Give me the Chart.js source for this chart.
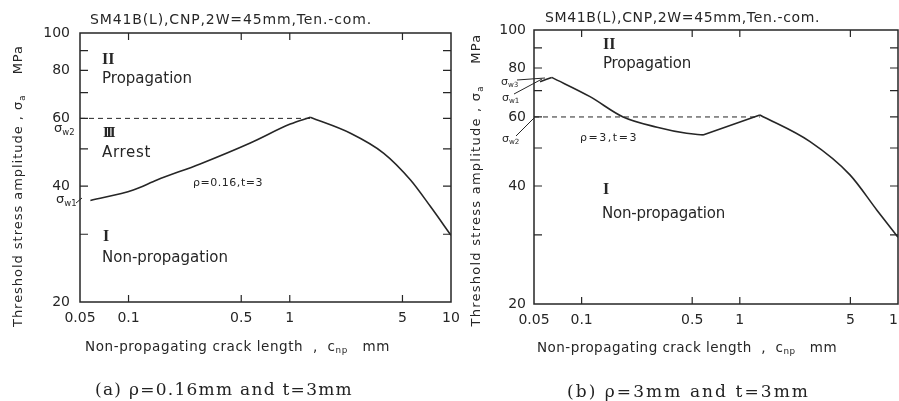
<!DOCTYPE html>
<html>
<head>
<meta charset="utf-8">
<script src="https://cdn.jsdelivr.net/npm/chart.js@4.4.1/dist/chart.umd.min.js"></script>
<style>
  html, body { margin: 0; padding: 0; width: 899px; height: 401px; overflow: hidden; background: #fff; }
  canvas { position: absolute; top: 0; }
  .cap { position: absolute; font-family: "DejaVu Serif", serif; font-size: 17px;
         color: #222; white-space: nowrap; line-height: 1; }
</style>
</head>
<body>
<canvas id="ga" width="460" height="401" style="left:0"></canvas>
<canvas id="gb" width="480" height="401" style="left:450px"></canvas>
<div class="cap" id="capA" data-w="258" style="left:95px;top:381px">(a) ρ=0.16mm and t=3mm</div>
<div class="cap" id="capB" data-w="243" style="left:567px;top:383px">(b) ρ=3mm and t=3mm</div>
<script>
// datos
const xTicks = [0.05, 0.1, 0.5, 1, 5, 10];
const xMarks = [0.1, 0.5, 1, 5];
const yTicks = [20, 30, 40, 50, 60, 70, 80, 90, 100];
const yLabeled = [20, 40, 60, 80, 100];
const yMarks = [30, 40, 50, 60, 70, 80, 90];

// (a) rho=0.16, t=3
const crackA  = [0.058, 0.107, 0.15, 0.278, 0.569, 1.007, 1.34, 2.38, 3.83, 5.61, 7.46, 10];
const stressA = [36.7, 39.1, 41.5, 45.7, 51.8, 58.0, 60.4, 54.9, 48.7, 41.5, 35.4, 29.8];
const kinksA  = [6];
const limitXA = [0.05, 1.34];
const limitYA = [60, 60];

// (b) rho=3, t=3
const crackB  = [0.0546, 0.0647, 0.113, 0.183, 0.3, 0.461, 0.585, 1.34, 2.78, 4.97, 7.36, 10];
const stressB = [73.8, 75.7, 67.6, 60.0, 56.5, 54.5, 54.0, 60.7, 51.9, 42.7, 34.7, 29.6];
const kinksB  = [1, 6, 7];
const limitXB = [0.05, 1.34];
const limitYB = [60, 60];

const INK = '#262626';
const SANS = '"DejaVu Sans", sans-serif';
const SERIF = '"Liberation Serif", serif';

// parte la curva en tramos para dejar las esquinas vivas
function pieces(xs, ys, kinks) {
  const cuts = [0, ...kinks, xs.length - 1];
  const out = [];
  for (let i = 0; i < cuts.length - 1; i++) {
    const pts = [];
    for (let j = cuts[i]; j <= cuts[i + 1]; j++) pts.push({x: xs[j], y: ys[j]});
    out.push(pts);
  }
  return out;
}

// texto con subindices, ajustado a un ancho
function drawRich(ctx, segs, x, y, size, target) {
  const fontOf = s => (s.bold ? 'bold ' : '') + (s.sub ? size * 0.65 : size) + 'px ' + (s.fam || SANS);
  ctx.letterSpacing = '0px';
  let nat = 0, n = 0;
  for (const s of segs) { ctx.font = fontOf(s); nat += ctx.measureText(s.t).width; n += s.t.length; }
  const sp = target ? (target - nat) / n : 0;
  let cx = x;
  for (const s of segs) {
    ctx.font = fontOf(s);
    ctx.letterSpacing = '0px';
    const w = ctx.measureText(s.t).width;
    ctx.letterSpacing = sp + 'px';
    ctx.fillText(s.t, cx, y + (s.sub ? size * 0.3 : 0));
    cx += w + sp * s.t.length;
  }
  ctx.letterSpacing = '0px';
  return cx - x;
}

const decor = {
  id: 'decor',
  afterDraw(chart, args, o) {
    const ctx = chart.ctx, a = chart.chartArea;
    const xs = chart.scales.x, ys = chart.scales.y;
    const dx = o.offsetX || 0;
    ctx.save();
    ctx.strokeStyle = INK;
    ctx.lineWidth = 1.5;
    ctx.strokeRect(a.left, a.top, a.right - a.left, a.bottom - a.top);
    ctx.lineWidth = 1.2;
    ctx.beginPath();
    for (const v of xMarks) {
      const p = xs.getPixelForValue(v);
      ctx.moveTo(p, a.bottom); ctx.lineTo(p, a.bottom - 7);
      ctx.moveTo(p, a.top); ctx.lineTo(p, a.top + 7);
    }
    for (const v of yMarks) {
      const p = ys.getPixelForValue(v);
      ctx.moveTo(a.left, p); ctx.lineTo(a.left + 8, p);
      ctx.moveTo(a.right, p); ctx.lineTo(a.right - 8, p);
    }
    ctx.stroke();
    ctx.lineWidth = 1;
    ctx.beginPath();
    for (const l of o.leaders) { ctx.moveTo(l[0] - dx, l[1]); ctx.lineTo(l[2] - dx, l[3]); }
    ctx.stroke();
    ctx.fillStyle = INK;
    ctx.textAlign = 'left';
    ctx.textBaseline = 'middle';
    for (const t of o.texts) {
      if (t.rot) {
        ctx.save();
        ctx.translate(t.x - dx, t.y);
        ctx.rotate(-Math.PI / 2);
        drawRich(ctx, t.segs, -t.w / 2, 0, t.size, t.w);
        ctx.restore();
      } else {
        drawRich(ctx, t.segs, t.x - dx, t.y, t.size, t.w);
      }
    }
    ctx.restore();
  }
};

function makeChart(id, xs, ys, kinks, limX, limY, box, deco) {
  const sets = pieces(xs, ys, kinks).map(pts => ({
    data: pts, borderColor: INK, borderWidth: 1.6, pointRadius: 0,
    cubicInterpolationMode: 'monotone', fill: false
  }));
  sets.push({
    data: limX.map((v, i) => ({x: v, y: limY[i]})),
    borderColor: INK, borderWidth: 1, borderDash: [5, 4], pointRadius: 0, fill: false
  });
  return new Chart(document.getElementById(id), {
    type: 'line',
    data: {datasets: sets},
    plugins: [decor],
    options: {
      responsive: false, animation: false, events: [],
      layout: {padding: box.pad},
      plugins: {legend: {display: false}, tooltip: {enabled: false}, decor: deco},
      scales: {
        x: {
          type: 'logarithmic', min: 0.05, max: 10,
          afterBuildTicks: s => { s.ticks = xTicks.map(v => ({value: v})); },
          afterFit: s => { s.height = 30; s.paddingLeft = 0; s.paddingRight = 0; },
          grid: {display: false, drawTicks: false}, border: {display: false},
          ticks: {autoSkip: false, maxRotation: 0, padding: 8, color: INK,
                  font: {family: SANS, size: 14}, callback: v => String(v)}
        },
        y: {
          type: 'logarithmic', min: 20, max: 100,
          afterBuildTicks: s => { s.ticks = yTicks.map(v => ({value: v})); },
          afterFit: s => { s.width = box.yw; s.paddingTop = 0; s.paddingBottom = 0; },
          grid: {display: false, drawTicks: false}, border: {display: false},
          ticks: {autoSkip: false, padding: box.lp, color: INK,
                  font: {family: SANS, size: 14},
                  callback: v => yLabeled.includes(v) ? String(v) : ''}
        }
      }
    }
  });
}

const TITLE = 'SM41B(L),CNP,2W=45mm,Ten.-com.';
const yTitle = [{t: 'Threshold stress amplitude , σ'}, {t: 'a', sub: true}, {t: '    MPa'}];
const xTitle = [{t: 'Non-propagating crack length  ,  c'}, {t: 'np', sub: true}, {t: '   mm'}];

makeChart('ga', crackA, stressA, kinksA, limitXA, limitYA,
  {pad: {left: 0, top: 33, right: 9, bottom: 69}, yw: 80, lp: 10},
  {
    offsetX: 0,
    leaders: [[76, 203, 82, 198]],
    texts: [
      {segs: [{t: TITLE}], x: 90, y: 20, size: 14, w: 282},
      {segs: [{t: 'II', fam: SERIF, bold: true}], x: 102, y: 60, size: 16},
      {segs: [{t: 'Propagation'}], x: 102, y: 79, size: 15, w: 90},
      {segs: [{t: 'III', fam: SERIF, bold: true}], x: 103, y: 133, size: 15, w: 10},
      {segs: [{t: 'Arrest'}], x: 102, y: 153, size: 15, w: 49},
      {segs: [{t: 'ρ=0.16,t=3'}], x: 193, y: 183, size: 11, w: 70},
      {segs: [{t: 'I', fam: SERIF, bold: true}], x: 103, y: 237, size: 16},
      {segs: [{t: 'Non-propagation'}], x: 102, y: 258, size: 15, w: 126},
      {segs: [{t: 'σ'}, {t: 'w2', sub: true}], x: 54, y: 129, size: 13},
      {segs: [{t: 'σ'}, {t: 'w1', sub: true}], x: 56, y: 200, size: 13},
      {segs: yTitle, x: 19, y: 186, size: 13, w: 282, rot: true},
      {segs: xTitle, x: 85, y: 347, size: 13.5, w: 305}
    ]
  });

makeChart('gb', crackB, stressB, kinksB, limitXB, limitYB,
  {pad: {left: 0, top: 30, right: 32, bottom: 67}, yw: 84, lp: 8},
  {
    offsetX: 450,
    leaders: [[517, 80, 545, 78], [514, 94, 542, 79], [516, 136, 534, 118]],
    texts: [
      {segs: [{t: TITLE}], x: 545, y: 18, size: 14, w: 275},
      {segs: [{t: 'II', fam: SERIF, bold: true}], x: 603, y: 45, size: 16},
      {segs: [{t: 'Propagation'}], x: 603, y: 64, size: 15, w: 88},
      {segs: [{t: 'ρ=3,t=3'}], x: 580, y: 138, size: 11, w: 58},
      {segs: [{t: 'I', fam: SERIF, bold: true}], x: 603, y: 190, size: 16},
      {segs: [{t: 'Non-propagation'}], x: 602, y: 214, size: 15, w: 123},
      {segs: [{t: 'σ'}, {t: 'w3', sub: true}], x: 501, y: 82, size: 11},
      {segs: [{t: 'σ'}, {t: 'w1', sub: true}], x: 502, y: 98, size: 11},
      {segs: [{t: 'σ'}, {t: 'w2', sub: true}], x: 502, y: 139, size: 11},
      {segs: yTitle, x: 477, y: 180, size: 13, w: 293, rot: true},
      {segs: xTitle, x: 537, y: 348, size: 13.5, w: 300}
    ]
  });

// ajusta el espaciado de los pies de figura al ancho medido
const mctx = document.createElement('canvas').getContext('2d');
document.querySelectorAll('.cap').forEach(el => {
  const cs = getComputedStyle(el);
  mctx.font = cs.fontSize + ' ' + cs.fontFamily;
  const txt = el.textContent;
  const nat = mctx.measureText(txt).width;
  el.style.letterSpacing = ((+el.dataset.w - nat) / txt.length) + 'px';
});
</script>
</body>
</html>
